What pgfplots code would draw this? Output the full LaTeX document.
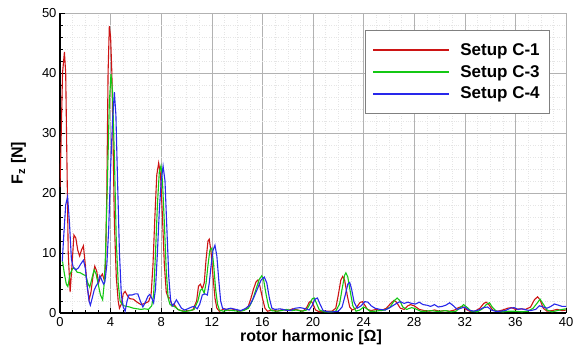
\documentclass[border=0pt]{standalone}
\usepackage{fontspec}
\setmainfont{Liberation Sans}
\usepackage{pgfplots}
\pgfplotsset{compat=1.18}
\definecolor{cred}{RGB}{205,20,20}
\definecolor{cgreen}{RGB}{20,200,20}
\definecolor{cblue}{RGB}{40,40,235}
\begin{document}
\begin{tikzpicture}
\path[use as bounding box] (-60pt,-36pt) rectangle (513pt,313pt);
\begin{axis}[
  at={(0pt,0pt)}, anchor=south west,
  scale only axis, width=506pt, height=300pt,
  xmin=0, xmax=40, ymin=0, ymax=50,
  axis x line*=bottom, axis y line*=left,
  axis line style={black, line width=1.2pt},
  xtick={0,4,...,40}, ytick={0,10,...,50},
  minor x tick num=3, minor y tick num=4,
  tick style={black, line width=0.8pt},
  major tick length=5pt, minor tick length=3pt,
  tick align=inside,
  grid=both,
  major grid style={gray!60, line width=0.6pt},
  minor grid style={gray!20, dotted, line width=0.4pt},
  /pgf/number format/assume math mode=true,
  ticklabel style={font=\fontsize{13}{15}\selectfont},
  xticklabel style={yshift=-1pt},
  xlabel={\textbf{rotor harmonic [Ω]}},
  ylabel={\textbf{F\textsubscript{z} [N]}},
  xlabel style={at={(axis description cs:0.496,-0.08)}, anchor=center, font=\fontsize{16}{18}\selectfont},
  ylabel style={at={(axis description cs:-0.082,0.5)}, anchor=center, rotate=0, font=\fontsize{16}{18}\selectfont},
  legend style={at={(axis description cs:0.603,0.943)}, anchor=north west,
     draw=gray, fill=white, inner xsep=8pt, inner ysep=11pt,
     font=\fontsize{17}{19}\selectfont\bfseries, row sep=4.5pt},
  legend cell align=left,
  legend image code/.code={\fill[#1, draw=none] (0pt,-1pt) rectangle (76pt,1pt);},
  /tikz/every odd column/.append style={column sep=9pt},
]
\addplot[cred, line width=1.1pt] coordinates {
(0,21) (0.1,30) (0.2,40) (0.35,43.5) (0.45,40) (0.55,25) (0.65,10) (0.8,3.5) (0.95,8) (1.1,13) (1.25,12.5) (1.4,10.5) (1.55,9.5) (1.7,10.5) (1.85,11.2) (2.0,8) (2.15,4.5) (2.3,2.2) (2.45,3.5) (2.6,6) (2.75,7.8) (2.9,7) (3.05,5) (3.2,6) (3.35,6.5) (3.5,5.5) (3.6,8) (3.7,20) (3.8,40) (3.9,47.8) (4.0,46) (4.1,40) (4.2,28) (4.3,15) (4.45,6) (4.6,2) (4.7,0.8) (4.85,1.5) (5.0,3.2) (5.15,3.6) (5.3,3) (5.5,2.4) (5.8,2.3) (6.1,1.8) (6.4,1.4) (6.7,1.6) (7.0,1.9) (7.2,3) (7.35,8) (7.5,16) (7.65,23) (7.8,25) (7.95,23) (8.1,16) (8.25,8) (8.4,3.5) (8.55,2.6) (8.7,2.5) (8.85,1.2) (9.0,1.5) (9.3,0.6) (9.6,0.4) (9.9,0.3) (10.2,0.4) (10.5,0.5) (10.8,2) (10.95,4.5) (11.1,4.8) (11.25,4) (11.4,5) (11.55,9) (11.7,12) (11.8,12.3) (11.95,10) (12.1,6) (12.25,2.5) (12.4,0.8) (12.6,0.3) (13,0.7) (13.4,0.4) (13.8,0.6) (14.2,0.3) (14.6,0.5) (14.9,1.2) (15.1,2.5) (15.3,4) (15.5,5.2) (15.65,5.5) (15.8,4.5) (16.0,2.5) (16.2,0.8) (16.4,0.3) (16.8,0.5) (17.2,0.3) (17.6,0.6) (18,0.4) (18.4,0.7) (18.8,0.5) (19.2,0.3) (19.5,0.9) (19.7,1.8) (19.85,2.0) (20.0,1.5) (20.2,0.5) (20.5,0.2) (21,0.3) (21.5,0.3) (21.8,0.8) (22.0,3) (22.2,5.5) (22.35,6.1) (22.5,5.5) (22.7,3) (22.9,1) (23.1,0.5) (23.4,0.8) (23.7,1.7) (23.9,1.9) (24.1,1.3) (24.3,0.6) (24.6,0.4) (25,0.6) (25.4,0.4) (25.8,0.8) (26.1,1.5) (26.4,2.1) (26.6,1.8) (26.9,0.8) (27.2,0.6) (27.5,1.2) (27.7,1.4) (28.0,1.2) (28.4,0.6) (28.8,0.4) (29.2,0.3) (29.6,0.5) (30,0.3) (30.4,0.4) (30.8,0.3) (31.2,0.5) (31.5,0.9) (31.8,1.1) (32.1,0.6) (32.4,0.3) (32.8,0.3) (33.2,0.8) (33.5,1.6) (33.7,1.8) (33.9,1.4) (34.2,0.5) (34.6,0.3) (35,0.5) (35.4,0.8) (35.7,0.9) (36,0.6) (36.4,0.7) (36.8,0.6) (37.2,1) (37.5,2.2) (37.75,2.7) (37.95,2.2) (38.2,0.8) (38.5,0.3) (38.9,0.4) (39.3,0.6) (39.7,0.4) (40,0.5)
};
\addlegendentry{Setup C-1}
\addplot[cgreen, line width=1.1pt] coordinates {
(0.2,8.6) (0.35,6.5) (0.5,4.8) (0.62,4.4) (0.8,6.5) (1.0,7.4) (1.15,7.5) (1.35,6.8) (1.6,6.7) (1.85,6.4) (2.05,6.2) (2.2,5) (2.35,4.3) (2.55,6) (2.7,7.2) (2.85,6.5) (3.0,5) (3.2,3) (3.37,2.2) (3.5,5) (3.6,10) (3.75,22) (3.9,35) (4.03,39.8) (4.15,37) (4.3,26) (4.45,12) (4.6,5) (4.75,2) (4.9,1.5) (5.05,1.2) (5.27,1.1) (5.5,1.0) (5.8,0.8) (6.1,0.7) (6.4,0.6) (6.7,0.7) (7.0,0.6) (7.25,1.2) (7.4,3) (7.55,10) (7.7,18) (7.85,23.5) (7.98,24.5) (8.1,22) (8.25,15) (8.4,7) (8.55,2.5) (8.7,1.4) (8.9,1.2) (9.1,1.0) (9.4,0.5) (9.7,0.3) (10.0,0.3) (10.3,0.4) (10.6,0.6) (10.9,2) (11.1,3.8) (11.25,4) (11.4,3.3) (11.55,5) (11.7,8) (11.85,10.5) (12.0,10.8) (12.15,8) (12.3,4) (12.45,1.5) (12.6,0.5) (12.9,0.3) (13.3,0.5) (13.7,0.4) (14.1,0.3) (14.5,0.4) (14.9,0.8) (15.2,2) (15.5,4) (15.75,5.6) (15.95,6.2) (16.1,5.5) (16.3,3) (16.5,1.0) (16.7,0.4) (17.1,0.3) (17.5,0.4) (17.9,0.6) (18.3,0.4) (18.7,0.5) (19.1,0.3) (19.5,0.5) (19.75,1.5) (19.95,2.4) (20.1,2.5) (20.3,1.5) (20.5,0.5) (20.9,0.2) (21.4,0.2) (21.8,0.3) (22.1,1.5) (22.3,4) (22.5,6.3) (22.6,6.7) (22.75,6) (22.95,3.5) (23.15,1.2) (23.4,0.3) (23.7,0.5) (24.0,1.0) (24.2,0.8) (24.5,0.3) (24.9,0.3) (25.3,0.4) (25.7,0.5) (26.1,1.0) (26.4,2) (26.65,2.5) (26.85,2.1) (27.1,1.0) (27.4,0.6) (27.8,0.9) (28.1,0.7) (28.5,0.3) (28.9,0.3) (29.3,0.4) (29.7,0.3) (30.1,0.3) (30.5,0.4) (30.9,0.2) (31.3,0.3) (31.6,0.8) (31.9,1.4) (32.2,0.9) (32.5,0.3) (33,0.2) (33.4,0.7) (33.7,1.4) (33.95,1.7) (34.2,0.9) (34.5,0.3) (35,0.2) (35.5,0.3) (36,0.3) (36.5,0.2) (37,0.3) (37.4,0.8) (37.7,1.6) (37.95,2.3) (38.2,1.5) (38.5,0.5) (38.9,0.2) (39.3,0.4) (39.7,0.6) (40,0.7)
};
\addlegendentry{Setup C-3}
\addplot[cblue, line width=1.1pt] coordinates {
(0.18,8.6) (0.3,13) (0.45,18) (0.6,19.4) (0.75,15) (0.9,9) (1.05,7.6) (1.25,7.2) (1.45,7.5) (1.65,8.2) (1.85,8.8) (2.0,7.5) (2.15,4.5) (2.3,2) (2.4,1.3) (2.55,2.5) (2.7,3.8) (2.85,4.5) (3.0,5) (3.15,6.2) (3.3,5.5) (3.45,4.8) (3.55,5.2) (3.7,8) (3.85,14) (4.0,24) (4.15,32) (4.3,36.8) (4.42,33) (4.55,22) (4.7,10) (4.85,3) (5.0,1) (5.15,0.3) (5.3,2) (5.45,3) (5.7,3) (5.95,3.2) (6.15,3.2) (6.35,2) (6.55,1) (6.75,1.8) (6.95,2.8) (7.1,3.1) (7.25,2.5) (7.4,1.7) (7.55,4) (7.7,10) (7.85,17) (8.0,22) (8.15,24.5) (8.3,22) (8.45,14) (8.6,6) (8.75,2) (8.9,1.2) (9.05,1.6) (9.2,2.2) (9.4,1.5) (9.6,0.8) (9.85,0.5) (10.1,0.7) (10.4,1.0) (10.6,1.1) (10.85,0.7) (11.05,1.5) (11.25,3) (11.45,3.2) (11.65,3) (11.8,5) (11.95,8) (12.1,10.5) (12.25,11.3) (12.4,9.5) (12.55,5.5) (12.7,2) (12.85,0.8) (13.1,0.6) (13.5,0.8) (13.9,0.6) (14.3,0.4) (14.7,0.8) (15.0,1.3) (15.3,2.5) (15.6,4) (15.9,5.5) (16.15,6.0) (16.35,5) (16.55,2.5) (16.75,0.8) (17.0,0.6) (17.4,0.7) (17.8,0.5) (18.2,0.4) (18.6,0.8) (19.0,0.9) (19.4,0.7) (19.7,0.5) (19.95,1.3) (20.15,2.3) (20.35,2.5) (20.55,1.5) (20.8,0.4) (21.2,0.2) (21.6,0.2) (22.0,0.3) (22.3,1.0) (22.55,3) (22.75,4.8) (22.9,5.1) (23.05,4) (23.25,1.8) (23.5,0.8) (23.8,1.2) (24.1,1.9) (24.35,1.8) (24.6,1.2) (24.9,0.8) (25.3,0.6) (25.7,0.5) (26.0,0.8) (26.3,1.2) (26.6,1.6) (26.9,1.9) (27.2,1.6) (27.5,1.8) (27.8,1.6) (28.1,1.5) (28.4,1.8) (28.7,1.4) (29.0,1.3) (29.3,1.1) (29.6,1.4) (29.9,1.0) (30.2,1.1) (30.5,1.3) (30.8,1.7) (31.1,1.2) (31.4,0.6) (31.7,0.8) (32.0,1.0) (32.3,0.5) (32.7,0.3) (33.1,0.5) (33.5,0.9) (33.8,1.0) (34.1,0.5) (34.4,0.3) (34.8,0.3) (35.2,0.4) (35.6,0.8) (35.9,0.9) (36.2,0.6) (36.5,0.7) (36.9,0.5) (37.2,0.4) (37.6,0.6) (37.9,1.2) (38.2,1.0) (38.5,0.8) (38.8,1.1) (39.1,1.5) (39.4,1.3) (39.7,1.1) (40,1.1)
};
\addlegendentry{Setup C-4}
\end{axis}
\end{tikzpicture}
\end{document}
